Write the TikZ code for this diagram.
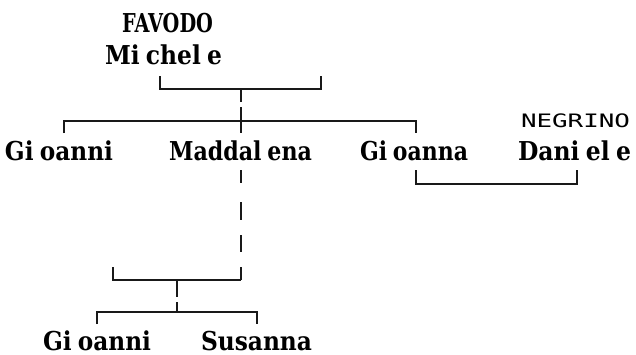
\documentclass[tikz,border=0pt]{standalone}
\usepackage{fontspec}
\setmainfont{DejaVu Serif}
\newfontfamily\negfont{DejaVu Sans Mono}
\usepackage{graphicx}
\newcommand{\fitw}[2]{\resizebox{#1}{\height}{#2}}
\begin{document}
\begin{tikzpicture}[x=1pt,y=-1pt]
\tikzset{
  nm/.style={inner sep=0pt, outer sep=0pt, anchor=base west, font=\fontsize{26}{26}\selectfont\bfseries},
  sur/.style={inner sep=0pt, outer sep=0pt, anchor=base west, font=\fontsize{18.5}{18.5}\selectfont\negfont},
  ln/.style={line width=1.7pt, draw=black!90, line cap=butt, line join=miter}
}
\useasboundingbox (0,0) rectangle (636,354);
% texts
\node[nm] (favodo) at (122,32) {\fitw{91pt}{FAVODO}};
\node[nm] (michele) at (105,64) {\fitw{117pt}{Mi\kern7pt chel\kern7pt e}};
\node[nm] (gioanni1) at (5,160) {\fitw{108pt}{Gi\kern7pt oanni}};
\node[nm] (maddalena) at (169,160) {\fitw{143pt}{Maddal\kern7pt ena}};
\node[nm] (gioanna) at (360,160) {\fitw{108pt}{Gi\kern7pt oanna}};
\node[sur] (negrino) at (521,127) {\fitw{109pt}{NEGRINO}};
\node[nm] (daniele) at (518,160) {\fitw{113pt}{Dani\kern7pt el\kern7pt e}};
\node[nm] (gioanni2) at (43,350) {\fitw{108pt}{Gi\kern7pt oanni}};
\node[nm] (susanna) at (201,350) {\fitw{111pt}{Susanna}};
% junction coordinates
\coordinate (m1l) at (160,76);
\coordinate (m1r) at (321,76);
\coordinate (m1c) at (241,89);
\coordinate (c1) at (241,121);
\coordinate (k1) at (64,133);
\coordinate (k2) at (241,133);
\coordinate (k3) at (416,133);
\coordinate (m2l) at (416,170);
\coordinate (m2r) at (577,170);
\coordinate (md) at (241,170);
\coordinate (m3l) at (113,267);
\coordinate (m3r) at (241,280);
\coordinate (m3c) at (177,280);
\coordinate (c3) at (177,312);
\coordinate (k4) at (97,324);
\coordinate (k5) at (257,324);
% marriage Michele
\draw[ln] (m1l) -- (m1l |- m1c) -- (m1r |- m1c) -- (m1r);
\draw[ln] (m1c) -- ++(0,13);
\draw[ln] ([yshift=-18pt]m1c) -- (k2);
% children line
\draw[ln] (k1) -- (k1 |- c1) -- (k3 |- c1) -- (k3);
% marriage Gioanna - Daniele
\draw[ln] (m2l) -- ++(0,14) -| (m2r);
% descent from Maddalena (dashed look)
\draw[ln] (md) -- ++(0,13);
\draw[ln] (241,202) -- (241,220);
\draw[ln] (241,235) -- (241,252);
\draw[ln] (241,267) -- (m3r);
% marriage Maddalena
\draw[ln] (m3l) -- (m3l |- m3r) -- (m3r);
\draw[ln] (m3c) -- ++(0,17);
\draw[ln] ([yshift=-22pt]m3c) -- (c3);
% children of Maddalena
\draw[ln] (k4) -- (k4 |- c3) -- (k5 |- c3) -- (k5);
\end{tikzpicture}
\end{document}
